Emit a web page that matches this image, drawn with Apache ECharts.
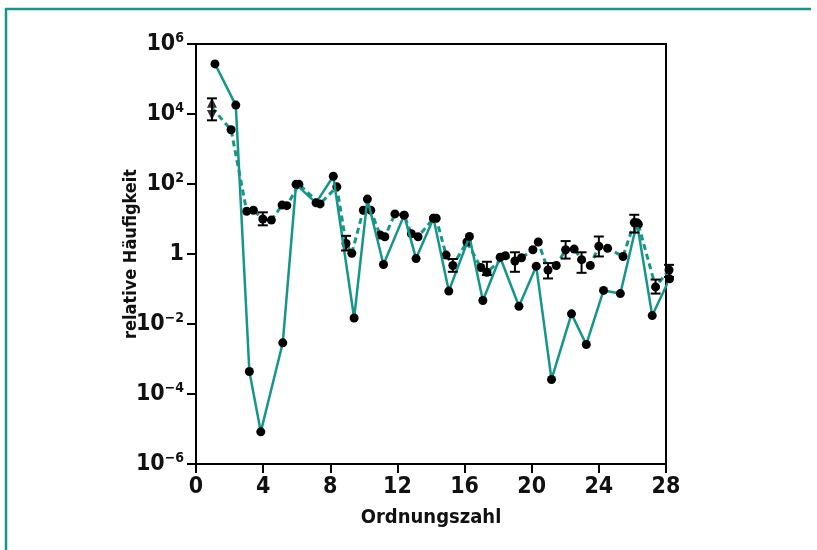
<!DOCTYPE html>
<html>
<head>
<meta charset="utf-8">
<script src="https://cdn.jsdelivr.net/npm/echarts@6/dist/echarts.min.js"></script>
<style>
html,body{margin:0;padding:0;background:#fff;}
#c{width:817px;height:550px;}
</style>
</head>
<body>
<div id="c"></div>
<script>
// Solid line (Sonne)
const solidX = [1.13,2.37,3.18,3.86,5.17,5.96,7.15,8.18,9.42,10.21,11.17,12.4,13.11,14.15,15.06,16.29,17.09,18.12,19.24,20.27,21.18,22.37,23.25,24.28,25.28,26.27,27.18,28.21];
const solidY = [2.7e5,1.8e4,4.4e-4,8.3e-6,2.9e-3,98,29,166,0.0148,37,0.5,12.9,0.74,10.5,0.087,3.16,0.047,0.81,0.032,0.45,2.6e-4,0.0195,2.6e-3,0.091,0.074,7.8,0.0174,0.195];

// Dashed line
const dashX = [0.95,2.09,3.02,3.42,3.98,4.49,5.13,5.41,6.13,7.39,8.39,8.94,9.28,9.97,10.41,10.97,11.25,11.85,12.4,12.83,13.23,14.15,14.31,14.9,15.3,16.14,16.97,17.33,18.43,19.0,19.39,20.07,20.39,20.97,21.46,22.02,22.53,22.97,23.49,24.0,24.52,25.44,26.11,26.35,27.38,28.18];
const dashY = [1.5e4,3550,16.6,17.8,10,9.3,25,24,98,27,83,2.0,1.05,17.8,17.8,3.5,3.1,14,12.9,3.8,3.1,10.5,10.5,0.93,0.47,2.2,0.41,0.30,0.89,0.63,0.78,1.32,2.2,0.35,0.47,1.32,1.38,0.69,0.47,1.66,1.45,0.85,7.9,7.1,0.115,0.35];

// Error bars
const errX = [0.95,3.98,8.94,15.3,17.33,19.0,20.97,22.02,22.97,24.0,26.11,27.38,28.18];
const errLow = [6.6e3,6.6,1.26,0.31,0.25,0.31,0.20,0.74,0.29,0.85,4.1,0.074,0.22];
const errHigh = [2.8e4,15.5,3.3,0.72,0.60,1.12,0.55,2.34,1.12,3.16,13.2,0.186,0.49];

// Triangle markers at Z=1
const triUp = [[0.95, 2.1e4]];
const triDown = [[0.95, 9.3e3]];

const xTicks = [0,4,8,12,16,20,24,28];

const TEAL = '#149688';
const FONT = '"DejaVu Sans Condensed","Liberation Sans Narrow",sans-serif';

const chart = echarts.init(document.getElementById('c'));

const solidData = solidX.map((x,i)=>[x, solidY[i]]);
const dashData = dashX.map((x,i)=> i===0 ? {value:[x, dashY[i]], symbol:'none'} : [x, dashY[i]]);
const errData = errX.map((x,i)=>[x, errLow[i], errHigh[i]]);

chart.setOption({
  animation:false,
  backgroundColor:'#fff',
  graphic:[
    {type:'line', shape:{x1:5, y1:9, x2:811, y2:9}, style:{stroke:TEAL, lineWidth:2.5}},
    {type:'line', shape:{x1:6, y1:8, x2:6, y2:550}, style:{stroke:TEAL, lineWidth:2.5}}
  ],
  grid:{left:196, right:151, top:44, bottom:86, show:true, borderColor:'#000', borderWidth:2, backgroundColor:'transparent'},
  xAxis:{
    type:'value', min:0, max:28, interval:4,
    axisLine:{show:true, lineStyle:{color:'#000', width:2}},
    axisTick:{show:true, length:9, lineStyle:{color:'#000', width:2}},
    splitLine:{show:false},
    axisLabel:{fontFamily:FONT, fontWeight:'bold', fontSize:23, color:'#111', margin:12,
      formatter:v=> xTicks.includes(v) ? String(v) : ''},
    name:'Ordnungszahl', nameLocation:'middle', nameGap:44, nameMoveOverlap:false,
    nameTextStyle:{fontFamily:FONT, fontWeight:'bold', fontSize:20, color:'#111'}
  },
  yAxis:{
    type:'log', logBase:10, min:1e-6, max:1e6, interval:2,
    axisLine:{show:true, lineStyle:{color:'#000', width:2}},
    axisTick:{show:true, length:9, lineStyle:{color:'#000', width:2}},
    splitLine:{show:false},
    minorTick:{show:false},
    axisLabel:{margin:12, color:'#111',
      formatter:function(v){
        const e = Math.round(Math.log10(v));
        if(e===0) return '{b|1}';
        return '{b|10}{s|' + (e<0 ? '\u2212'+(-e) : e) + '}';
      },
      rich:{
        b:{fontFamily:FONT, fontWeight:'bold', fontSize:23, color:'#111'},
        s:{fontFamily:FONT, fontWeight:'bold', fontSize:14, color:'#111', padding:[0,0,12,0]}
      }
    },
    name:'relative Häufigkeit', nameLocation:'middle', nameGap:56, nameRotate:90, nameMoveOverlap:false,
    nameTextStyle:{fontFamily:FONT, fontWeight:'bold', fontSize:18, color:'#111'}
  },
  series:[
    {type:'line', data:dashData, clip:false, z:2,
      lineStyle:{color:TEAL, width:3, type:[6,4]},
      symbol:'circle', symbolSize:9, itemStyle:{color:'#000'}},
    {type:'line', data:solidData, clip:false, z:3,
      lineStyle:{color:TEAL, width:2.5},
      symbol:'circle', symbolSize:9, itemStyle:{color:'#000'}},
    {type:'custom', data:errData, clip:false, z:4,
      renderItem:function(params, api){
        const x = api.value(0);
        const pl = api.coord([x, api.value(1)]);
        const ph = api.coord([x, api.value(2)]);
        const w = 5;
        const st = {stroke:'#000', lineWidth:2};
        return {type:'group', children:[
          {type:'line', shape:{x1:pl[0], y1:pl[1], x2:ph[0], y2:ph[1]}, style:st},
          {type:'line', shape:{x1:pl[0]-w, y1:pl[1], x2:pl[0]+w, y2:pl[1]}, style:st},
          {type:'line', shape:{x1:ph[0]-w, y1:ph[1], x2:ph[0]+w, y2:ph[1]}, style:st}
        ]};
      }},
    {type:'scatter', data:triUp, symbol:'triangle', symbolSize:10, itemStyle:{color:'#000'}, z:5},
    {type:'scatter', data:triDown, symbol:'triangle', symbolRotate:180, symbolSize:10, itemStyle:{color:'#000'}, z:5}
  ]
});
</script>
</body>
</html>
